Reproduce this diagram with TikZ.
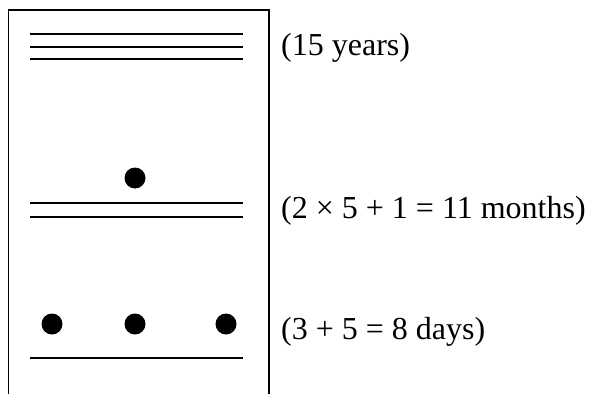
\documentclass[tikz,border=0pt]{standalone}
\usepackage{fontspec}
\setmainfont{Liberation Serif}
\begin{document}
\begin{tikzpicture}[x=1pt,y=-1pt,
  bar/.style={line width=2.8pt},
  frame/.style={line width=1.3pt},
  bead/.style={fill=black},
  lbl/.style={anchor=west,inner sep=0pt,font=\fontsize{32}{38}\selectfont}]
\useasboundingbox (0,0) rectangle (604,393);
\draw[frame] (8.5,394) -- (8.5,10) -- (269,10) -- (269,394);
% top: 15 years
\draw[bar] (30,34) -- (243,34);
\draw[bar] (30,47) -- (243,47);
\draw[bar] (30,59) -- (243,59);
% middle: 11 months
\fill[bead] (135,178) circle (10.5);
\draw[bar] (30,203) -- (243,203);
\draw[bar] (30,217) -- (243,217);
% bottom: 8 days
\fill[bead] (52,324) circle (10.5);
\fill[bead] (135,324) circle (10.5);
\fill[bead] (226,324) circle (10.5);
\draw[bar] (30,358) -- (243,358);
% labels
\node[lbl] (ty) at (281,48) {(15 years)};
\node[lbl] (tm) at (281,211) {(2 × 5 + 1 = 11 months)};
\node[lbl] (td) at (281,332) {(3 + 5 = 8 days)};
\end{tikzpicture}
\end{document}
